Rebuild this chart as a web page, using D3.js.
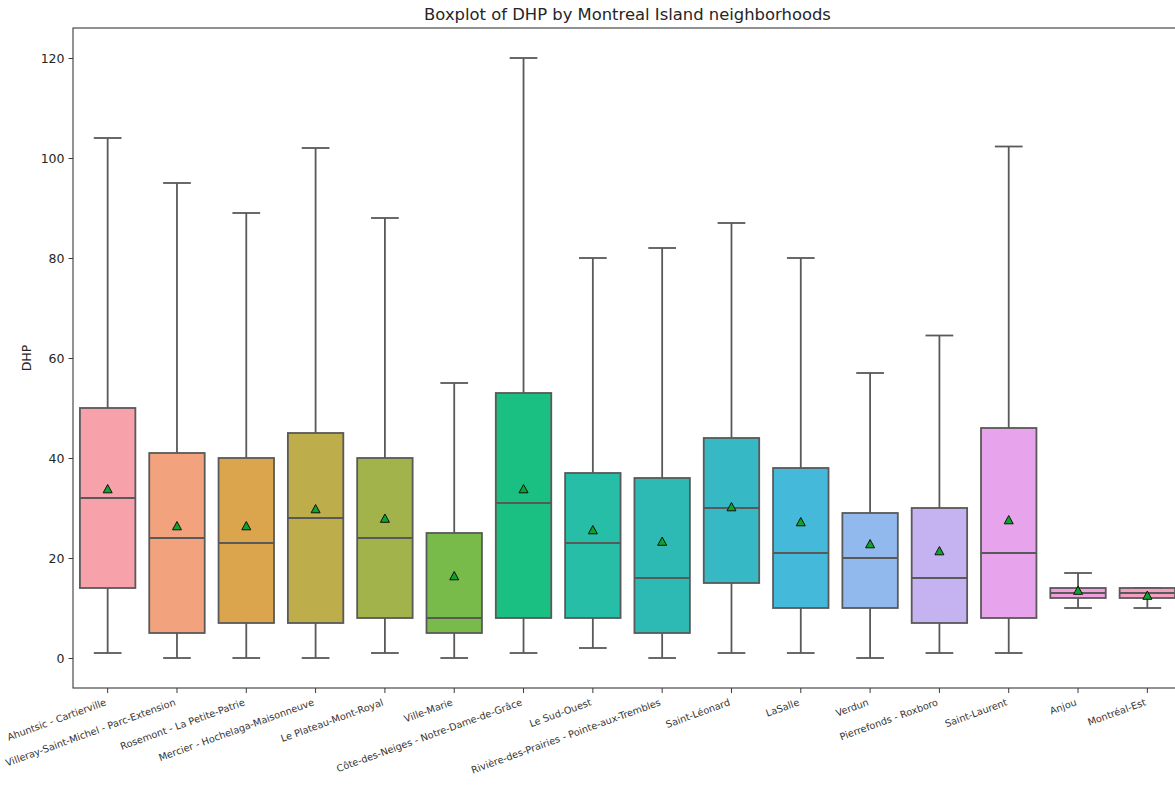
<!DOCTYPE html>
<html><head><meta charset="utf-8">
<script src="https://cdn.jsdelivr.net/npm/d3@7"></script>
<style>
html,body{margin:0;padding:0;background:#fff;overflow:hidden;}
svg{display:block;font-family:"DejaVu Sans",sans-serif;}
</style></head>
<body>
<svg id="chart" width="1175" height="788"></svg>
<script>
const categories = ["Ahuntsic - Cartierville","Villeray-Saint-Michel - Parc-Extension","Rosemont - La Petite-Patrie","Mercier - Hochelaga-Maisonneuve","Le Plateau-Mont-Royal","Ville-Marie","Côte-des-Neiges - Notre-Dame-de-Grâce","Le Sud-Ouest","Rivière-des-Prairies - Pointe-aux-Trembles","Saint-Léonard","LaSalle","Verdun","Pierrefonds - Roxboro","Saint-Laurent","Anjou","Montréal-Est"];
const whiskerLow  = [1, 0, 0, 0, 1, 0, 1, 2, 0, 1, 1, 0, 1, 1, 10, 10];
const q1          = [14, 5, 7, 7, 8, 5, 8, 8, 5, 15, 10, 10, 7, 8, 12, 12];
const median      = [32, 24, 23, 28, 24, 8, 31, 23, 16, 30, 21, 20, 16, 21, 13, 13];
const q3          = [50, 41, 40, 45, 40, 25, 53, 37, 36, 44, 38, 29, 30, 46, 14, 14];
const whiskerHigh = [104, 95, 89, 102, 88, 55, 120, 80, 82, 87, 80, 57, 64.5, 102.3, 17, 14];
const means       = [33.8, 26.4, 26.4, 29.8, 27.9, 16.4, 33.8, 25.6, 23.3, 30.2, 27.2, 22.8, 21.4, 27.6, 13.5, 12.5];
const colors = ["#f7a1ab","#f3a27e","#dba54d","#bead4b","#a3b34b","#78bb4b","#1ac082","#26bea6","#2dbab5","#37b9c5","#45b9da","#91b9ee","#c5b3f1","#e7a3ec","#ef9ede","#f49fc2"];
const yTicks = [0, 20, 40, 60, 80, 100, 120];
const title = "Boxplot of DHP by Montreal Island neighborhoods";
const yLabel = "DHP";

const svg = d3.select("#chart");
const L = 73, T = 28, B = 688, R = 1182;
const x = d3.scaleBand().domain(categories).range([L, R]).padding(0);
const y = d3.scaleLinear().domain([-6, 126]).range([B, T]);
const bw = x.bandwidth();
const boxW = bw * 0.8, capW = boxW * 0.5;
const lineCol = "#595959";
const lw = 1.8;

const data = categories.map((c, i) => ({c, lo: whiskerLow[i], q1: q1[i], med: median[i], q3: q3[i], hi: whiskerHigh[i], mean: means[i], col: colors[i]}));

const g = svg.append("g");
data.forEach(d => {
  const cx = x(d.c) + bw / 2;
  const gg = g.append("g");
  gg.append("line").attr("x1", cx).attr("x2", cx).attr("y1", y(d.q3)).attr("y2", y(d.hi)).attr("stroke", lineCol).attr("stroke-width", lw);
  gg.append("line").attr("x1", cx).attr("x2", cx).attr("y1", y(d.q1)).attr("y2", y(d.lo)).attr("stroke", lineCol).attr("stroke-width", lw);
  gg.append("line").attr("x1", cx - capW/2).attr("x2", cx + capW/2).attr("y1", y(d.hi)).attr("y2", y(d.hi)).attr("stroke", lineCol).attr("stroke-width", lw);
  gg.append("line").attr("x1", cx - capW/2).attr("x2", cx + capW/2).attr("y1", y(d.lo)).attr("y2", y(d.lo)).attr("stroke", lineCol).attr("stroke-width", lw);
  gg.append("rect").attr("x", cx - boxW/2).attr("y", y(d.q3)).attr("width", boxW).attr("height", y(d.q1) - y(d.q3))
    .attr("fill", d.col).attr("stroke", lineCol).attr("stroke-width", lw);
  gg.append("line").attr("x1", cx - boxW/2).attr("x2", cx + boxW/2).attr("y1", y(d.med)).attr("y2", y(d.med)).attr("stroke", lineCol).attr("stroke-width", lw);
  const my = y(d.mean);
  gg.append("path").attr("d", `M${cx},${my-4.5}L${cx-4.5},${my+3.8}L${cx+4.5},${my+3.8}Z`)
    .attr("fill", "#0ba52c").attr("stroke", "#111").attr("stroke-width", 1);
});

svg.append("rect").attr("x", L).attr("y", T).attr("width", R - L).attr("height", B - T)
  .attr("fill", "none").attr("stroke", "#3a3a3a").attr("stroke-width", 1.1);

const yAxis = svg.append("g").attr("transform", `translate(${L},0)`)
  .call(d3.axisLeft(y).tickValues(yTicks).tickSize(4.5).tickPadding(4).tickFormat(d3.format("d")));
yAxis.select(".domain").remove();
yAxis.selectAll("line").attr("stroke", "#3a3a3a");
yAxis.selectAll("text").attr("font-size", 12.5).attr("fill", "#262626").attr("font-family", "DejaVu Sans");

const xAxis = svg.append("g").attr("transform", `translate(0,${B})`)
  .call(d3.axisBottom(x).tickSize(5).tickFormat(""));
xAxis.select(".domain").remove();
xAxis.selectAll("line").attr("stroke", "#3a3a3a");
const fs = 9.7, asc = fs * 0.93, desc = fs * 0.24, ang = 20 * Math.PI / 180;
svg.append("g").selectAll("text").data(categories).join("text")
  .attr("transform", c => `translate(${x(c) + bw/2 - desc*Math.sin(ang)},${B + 5 + 3.5 + asc*Math.cos(ang)}) rotate(-20)`)
  .attr("text-anchor", "end").attr("font-size", fs).attr("fill", "#333")
  .text(c => c);

svg.append("text").attr("x", (L + R) / 2).attr("y", 20).attr("text-anchor", "middle")
  .attr("font-size", 16.4).attr("fill", "#262626").text(title);
svg.append("text").attr("transform", `translate(31,${(T + B) / 2}) rotate(-90)`).attr("text-anchor", "middle")
  .attr("font-size", 12.5).attr("fill", "#262626").text(yLabel);
</script>
</body></html>
